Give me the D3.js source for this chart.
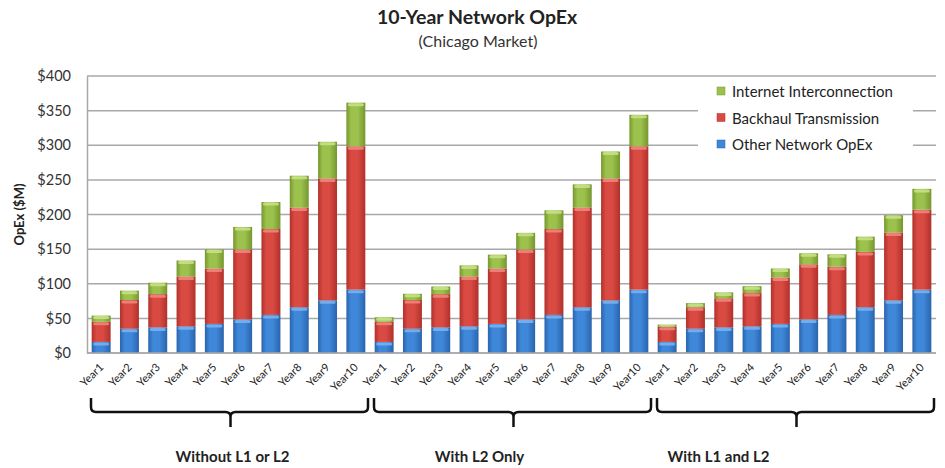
<!DOCTYPE html>
<html>
<head>
<meta charset="utf-8">
<script src="https://cdn.jsdelivr.net/npm/d3@7"></script>
<style>
  body { margin: 0; background: #fff; }
  text { font-family: Lato, "Open Sans", sans-serif; fill: #222; }
</style>
</head>
<body>
<div id="chart"></div>
<script>
// Chart values ($M)
const groups = ["Without L1 or L2", "With L2 Only", "With L1 and L2"];
const years = ["Year1", "Year2", "Year3", "Year4", "Year5", "Year6", "Year7", "Year8", "Year9", "Year10"];
const seriesNames = ["Other Network OpEx", "Backhaul Transmission", "Internet Interconnection"];

const otherOpex = [
  [16, 35, 37, 38.5, 42, 48.5, 55, 66, 76, 91.5],
  [16, 35, 37, 38.5, 42, 48.5, 55, 66, 76, 91.5],
  [16, 35, 37, 38.5, 42, 48.5, 55, 66, 76, 91.5]
];
const backhaul = [
  [29, 41.5, 48, 72, 80, 101, 124, 144, 176, 207],
  [29, 41.5, 48, 72, 80, 101, 124, 144, 176, 207],
  [22, 31, 42, 48, 67, 79.5, 69.5, 80, 98, 115.5]
];
const internet = [
  [9, 13.5, 16.5, 23, 27.5, 32.5, 39, 46, 53, 63],
  [6.5, 9, 11, 16, 20, 24, 27, 33.5, 39, 45.5],
  [3, 6, 8.5, 10, 13, 16, 18, 22, 25, 30]
];
const yTicks = [0, 50, 100, 150, 200, 250, 300, 350, 400];

const width = 945, height = 468;
const margin = {top : 76, right : 9, bottom : 115, left : 87};
const plotBottom = height - margin.bottom;

const colors = {
  "Other Network OpEx" : {base : "#3f87d8", light : "#7cb4ee", dark : "#2a64ad"},
  "Backhaul Transmission" : {base : "#d94a42", light : "#ee8a80", dark : "#b0312b"},
  "Internet Interconnection" : {base : "#9cc24d", light : "#c9e38a", dark : "#76962f"}
};

// Flatten into rows for stacking
const rows = [];
groups.forEach((g, gi) => {
  years.forEach((yr, yi) => {
    rows.push({
      key : gi + "-" + yr,
      group : gi,
      year : yr,
      "Other Network OpEx" : otherOpex[gi][yi],
      "Backhaul Transmission" : backhaul[gi][yi],
      "Internet Interconnection" : internet[gi][yi]
    });
  });
});

const svg = d3.select("#chart").append("svg")
                .attr("width", width)
                .attr("height", height);

const defs = svg.append("defs");
seriesNames.forEach((s, i) => {
  const grad = defs.append("linearGradient")
                   .attr("id", "grad" + i)
                   .attr("x1", "0%").attr("x2", "100%")
                   .attr("y1", "0%").attr("y2", "0%");
  grad.append("stop").attr("offset", "0%").attr("stop-color", colors[s].dark);
  grad.append("stop").attr("offset", "25%").attr("stop-color", colors[s].base);
  grad.append("stop").attr("offset", "60%").attr("stop-color", colors[s].base);
  grad.append("stop").attr("offset", "100%").attr("stop-color", colors[s].dark);
});

const x = d3.scaleBand()
              .domain(rows.map(d => d.key))
              .range([ margin.left, width - margin.right ])
              .paddingInner(0.33)
              .paddingOuter(0.165);

const y = d3.scaleLinear()
              .domain([ 0, 400 ])
              .range([ plotBottom, margin.top ]);

// Title
svg.append("text")
    .attr("x", 477).attr("y", 24)
    .attr("text-anchor", "middle")
    .style("font-size", "19.5px")
    .style("font-weight", "bold")
    .text("10-Year Network OpEx");
svg.append("text")
    .attr("x", 478).attr("y", 47)
    .attr("text-anchor", "middle")
    .style("font-size", "16px")
    .style("fill", "#333")
    .text("(Chicago Market)");

// Gridlines
svg.append("g")
    .selectAll("line")
    .data(yTicks)
    .join("line")
    .attr("x1", margin.left)
    .attr("x2", width - margin.right)
    .attr("y1", d => y(d))
    .attr("y2", d => y(d))
    .attr("stroke", "#a8a8a8")
    .attr("stroke-width", 1.5);

// Y axis
const yAxis = svg.append("g")
                  .attr("transform", `translate(${margin.left},0)`)
                  .call(d3.axisLeft(y).tickValues(yTicks).tickSize(0).tickPadding(16)
                            .tickFormat(d => "$" + d));
yAxis.select(".domain").attr("stroke", "#a8a8a8").attr("stroke-width", 1.5);
yAxis.selectAll("text").style("font-size", "14.5px").style("fill", "#333")
    .style("font-family", "Lato, sans-serif");

svg.append("text")
    .attr("transform", `translate(24,${(margin.top + plotBottom) / 2}) rotate(-90)`)
    .attr("text-anchor", "middle")
    .style("font-size", "13px")
    .style("font-weight", "bold")
    .text("OpEx ($M)");

// Stacked bars
const stacked = d3.stack().keys(seriesNames)(rows);
const bw = x.bandwidth();

stacked.forEach((layer, li) => {
  const s = layer.key;
  const g = svg.append("g");
  g.selectAll("rect.seg")
      .data(layer)
      .join("rect")
      .attr("class", "seg")
      .attr("x", d => x(d.data.key))
      .attr("y", d => y(d[1]))
      .attr("width", bw)
      .attr("height", d => y(d[0]) - y(d[1]))
      .attr("fill", `url(#grad${li})`);
  // top highlight band
  g.selectAll("rect.hi")
      .data(layer)
      .join("rect")
      .attr("class", "hi")
      .attr("x", d => x(d.data.key) + 1.5)
      .attr("y", d => y(d[1]) + 0.5)
      .attr("width", bw - 3)
      .attr("height", d => Math.min(3, y(d[0]) - y(d[1]) - 1))
      .attr("rx", 1.5)
      .attr("fill", colors[s].light)
      .attr("opacity", 0.85);
});

// Bottom axis line
svg.append("line")
    .attr("x1", margin.left).attr("x2", width - margin.right)
    .attr("y1", plotBottom).attr("y2", plotBottom)
    .attr("stroke", "#a8a8a8").attr("stroke-width", 1.5);

// Year labels
svg.append("g")
    .selectAll("text")
    .data(rows)
    .join("text")
    .attr("transform", d => `translate(${x(d.key) + bw / 2 + 3},${plotBottom + 15}) rotate(-45)`)
    .attr("text-anchor", "end")
    .style("font-size", "11px")
    .text(d => d.year);

// Legend
const legend = svg.append("g");
legend.append("rect")
    .attr("x", 698).attr("y", 80)
    .attr("width", 215).attr("height", 84)
    .attr("fill", "#fff");
seriesNames.slice().reverse().forEach((s, i) => {
  const ly = 92 + i * 26.5;
  legend.append("rect")
      .attr("x", 717).attr("y", ly - 5)
      .attr("width", 8).attr("height", 8)
      .attr("fill", colors[s].base)
      .attr("stroke", colors[s].dark)
      .attr("stroke-width", 0.5);
  legend.append("text")
      .attr("x", 732).attr("y", ly + 5)
      .style("font-size", "15px")
      .text(s);
});

// Group brackets and labels
const labelShift = [ 4, -32, -76 ];
const braceTop = 398, braceMid = 412, braceTip = 427;
groups.forEach((g, gi) => {
  const first = x(gi + "-" + years[0]) - x.step() * x.paddingInner() / 2;
  const last = x(gi + "-" + years[years.length - 1]) + bw + x.step() * x.paddingInner() / 2;
  const x0 = first + 4, x1 = last - 2, xc = (first + last) / 2 + 2;
  const r = 5;
  const p = d3.path();
  p.moveTo(x0, braceTop);
  p.lineTo(x0, braceMid - r);
  p.quadraticCurveTo(x0, braceMid, x0 + r, braceMid);
  p.lineTo(xc - r, braceMid);
  p.quadraticCurveTo(xc, braceMid, xc, braceMid + r);
  p.lineTo(xc, braceTip);
  p.moveTo(xc, braceMid + r);
  p.quadraticCurveTo(xc, braceMid, xc + r, braceMid);
  p.lineTo(x1 - r, braceMid);
  p.quadraticCurveTo(x1, braceMid, x1, braceMid - r);
  p.lineTo(x1, braceTop);
  svg.append("path")
      .attr("d", p.toString())
      .attr("fill", "none")
      .attr("stroke", "#111")
      .attr("stroke-width", 2.5);
  svg.append("text")
      .attr("x", (first + last) / 2 + labelShift[gi])
      .attr("y", 462)
      .attr("text-anchor", "middle")
      .style("font-size", "15px")
      .style("font-weight", "bold")
      .text(g);
});
</script>
</body>
</html>
